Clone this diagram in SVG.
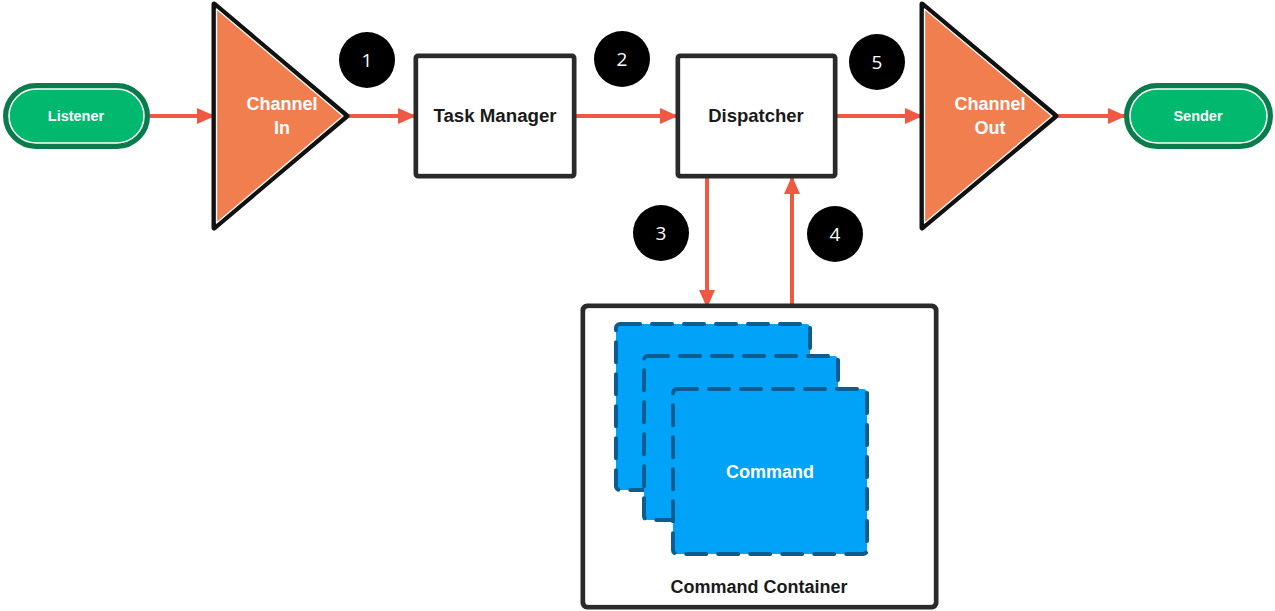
<svg xmlns="http://www.w3.org/2000/svg" width="1275" height="611" viewBox="0 0 1275 611">
<defs>
<marker id="ah" markerUnits="userSpaceOnUse" markerWidth="18" markerHeight="16" refX="17" refY="8" orient="auto">
<path d="M0,0 L18,8 L0,16 Z" fill="#EF5842"/>
</marker>
<style>
.lbl{font-family:"Liberation Sans",Arial,sans-serif;font-weight:bold;text-anchor:middle}
.wt{fill:#fff}
.dk{fill:#1a1a1a}
.num{font-family:"Open Sans","Liberation Sans",sans-serif;font-size:19px;fill:#fff;text-anchor:middle}
.pill{fill:#00B86E;stroke:#0A7C4B;stroke-width:6}
.pillin{fill:none;stroke:#fff;stroke-width:1.5}
.tri{fill:#F17E4E;stroke:#111;stroke-width:5;stroke-linejoin:round}
.triin{fill:none;stroke:#fff;stroke-width:1.3;stroke-linejoin:round}
.box{fill:#fff;stroke:#2a2a2a;stroke-width:5}
.boxin{fill:none;stroke:#fff;stroke-width:1.3}
.card{fill:#00A3F7;stroke:#0A5D8E;stroke-width:4;stroke-dasharray:20 12;stroke-linecap:round}
.conn{fill:none;stroke:#EF5842;stroke-width:4;marker-end:url(#ah)}
</style>
</defs>
<rect width="1275" height="611" fill="#fff"/>

<g id="connectors">
<path class="conn" d="M148,116 L214,116"/>
<path class="conn" d="M349,116 L415,116"/>
<path class="conn" d="M575,116 L677,116"/>
<path class="conn" d="M836,116 L922,116"/>
<path class="conn" d="M1058,116 L1125,116"/>
<path class="conn" d="M707,177 L707,307"/>
<path class="conn" d="M792,310 L792,177"/>
</g>

<g id="listener">
<rect class="pill" x="6" y="86" width="141" height="60" rx="30"/>
<rect class="pillin" x="9" y="89" width="135" height="54" rx="27"/>
<text class="lbl wt" x="76" y="121" font-size="14.5">Listener</text>
</g>

<g id="channel-in">
<polygon class="tri" points="214,4 347,116 214,228"/>
<polygon class="triin" points="216.5,9 343,116 216.5,223"/>
<text class="lbl wt" x="282" y="110" font-size="18">Channel</text>
<text class="lbl wt" x="282" y="134" font-size="18">In</text>
</g>

<g id="badge-1"><circle cx="367" cy="60" r="28" fill="#000"/><text class="num" x="367" y="67">1</text></g>
<g id="badge-2"><circle cx="622" cy="59" r="28" fill="#000"/><text class="num" x="622" y="66">2</text></g>
<g id="badge-5"><circle cx="877" cy="62" r="28" fill="#000"/><text class="num" x="877" y="69">5</text></g>
<g id="badge-3"><circle cx="661" cy="233" r="28" fill="#000"/><text class="num" x="661" y="240">3</text></g>
<g id="badge-4"><circle cx="835" cy="234" r="28" fill="#000"/><text class="num" x="835" y="241">4</text></g>

<g id="task-manager">
<rect class="box" x="416" y="56" width="158" height="120" rx="2"/>
<rect class="boxin" x="419" y="59" width="152" height="114"/>
<text class="lbl dk" x="495" y="122" font-size="18.7">Task Manager</text>
</g>

<g id="dispatcher">
<rect class="box" x="678" y="56" width="157" height="120" rx="2"/>
<rect class="boxin" x="681" y="59" width="151" height="114"/>
<text class="lbl dk" x="756" y="122" font-size="18.5">Dispatcher</text>
</g>

<g id="channel-out">
<polygon class="tri" points="922,4 1056,116 922,228"/>
<polygon class="triin" points="924.5,9 1052,116 924.5,223"/>
<text class="lbl wt" x="990" y="110" font-size="18">Channel</text>
<text class="lbl wt" x="990" y="134" font-size="18">Out</text>
</g>

<g id="sender">
<rect class="pill" x="1127" y="86" width="143" height="60" rx="30"/>
<rect class="pillin" x="1130" y="89" width="137" height="54" rx="27"/>
<text class="lbl wt" x="1198" y="121" font-size="14.5">Sender</text>
</g>

<g id="command-container">
<rect class="box" x="583" y="306" width="353" height="301" rx="4"/>
<rect class="boxin" x="586" y="309" width="347" height="295" rx="3"/>
<text class="lbl dk" x="759" y="593" font-size="18">Command Container</text>
</g>

<g id="command">
<rect class="card" x="616" y="324" width="194" height="166" rx="4"/>
<rect class="card" x="644" y="356" width="194" height="164" rx="4"/>
<rect class="card" x="673" y="389" width="194" height="165" rx="4"/>
<text class="lbl wt" x="770" y="478" font-size="18">Command</text>
</g>
</svg>
